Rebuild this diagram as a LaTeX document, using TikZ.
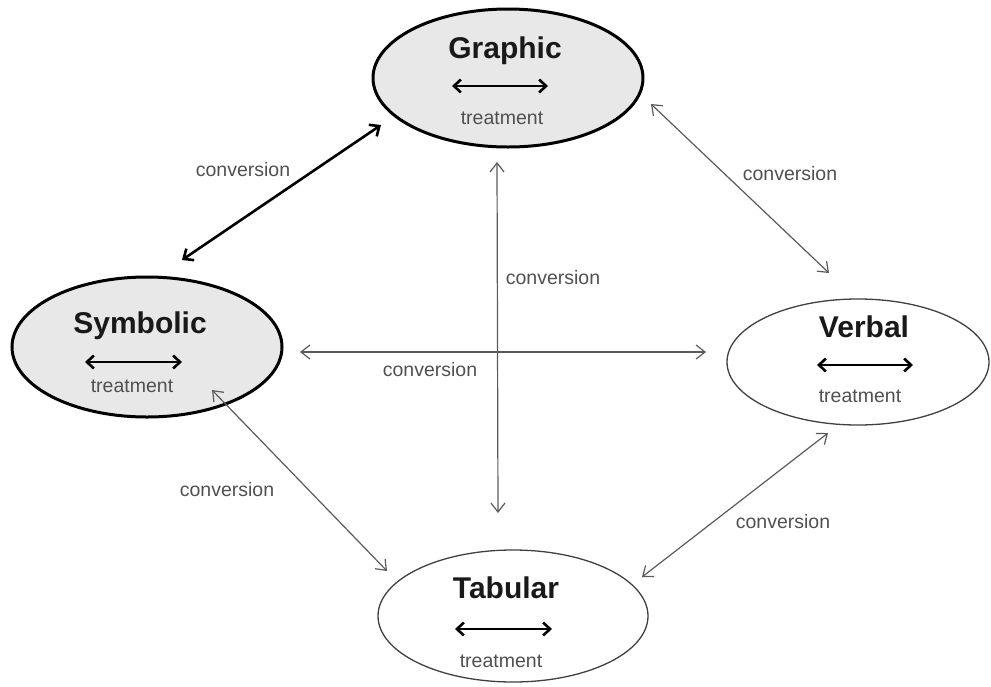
\documentclass[tikz,border=0pt]{standalone}
\usepackage{fontspec}
\setmainfont{Liberation Sans}
\usetikzlibrary{shapes.geometric,arrows.meta,calc}
\definecolor{fillgray}{HTML}{E8E8E8}
\definecolor{linegray}{HTML}{5A5A5A}
\definecolor{labelgray}{HTML}{505050}
\tikzset{
  repbold/.style={ellipse,draw=black,line width=3pt,fill=fillgray,inner sep=0pt},
  repthin/.style={ellipse,draw=black!75,line width=1.3pt,fill=white,inner sep=0pt},
  title/.style={anchor=base,font=\fontsize{30}{32}\selectfont\bfseries,text=black!90,inner sep=0pt},
  small/.style={anchor=base,font=\fontsize{19.5}{21}\selectfont,text=labelgray,inner sep=0pt},
  treat/.style={line width=2.6pt,{Straight Barb[length=7pt,width=13pt,line width=2.6pt]}-{Straight Barb[length=7pt,width=13pt,line width=2.6pt]}},
  thinconv/.style={draw=linegray,line width=1.2pt,{Straight Barb[length=9pt,width=14pt]}-{Straight Barb[length=9pt,width=14pt]}},
  thickconv/.style={draw=black,line width=2.6pt,{Straight Barb[length=8pt,width=14pt,line width=2.6pt]}-{Straight Barb[length=8pt,width=14pt,line width=2.6pt]}}
}
\begin{document}
\begin{tikzpicture}[x=1pt,y=-1pt]
\useasboundingbox (0,0) rectangle (991,686);
% ellipses
\node[repbold,minimum width=270pt,minimum height=138pt] (G) at (508,78) {};
\node[repbold,minimum width=270pt,minimum height=140pt] (S) at (147,347) {};
\node[repthin,minimum width=262pt,minimum height=126pt] (V) at (858,362) {};
\node[repthin,minimum width=270pt,minimum height=132pt] (T) at (513,616) {};
% titles
\node[title] (Gt) at (505,58) {Graphic};
\node[title] (St) at (140,333) {Symbolic};
\node[title] (Vt) at (864,337) {Verbal};
\node[title] (Tt) at (506,598) {Tabular};
% treatment arrows
\coordinate (Ga) at (452,86); \coordinate (Gb) at (548,86);
\coordinate (Sa) at (85,362); \coordinate (Sb) at (182,362);
\coordinate (Va) at (817,365); \coordinate (Vb) at (913,365);
\coordinate (Ta) at (455,629); \coordinate (Tb) at (552,629);
\draw[treat] (Ga) -- (Gb);
\draw[treat] (Sa) -- (Sb);
\draw[treat] (Va) -- (Vb);
\draw[treat] (Ta) -- (Tb);
\node[small] (Gtr) at (502,124) {treatment};
\node[small] (Str) at (132,392) {treatment};
\node[small] (Vtr) at (860,402) {treatment};
\node[small] (Ttr) at (501,667) {treatment};
% conversions
\draw[thickconv] ($(G.center)+(-127,47)$) -- ($(S.center)+(35,-87)$);
\draw[thinconv] ($(G.center)+(143,26)$) -- ($(V.center)+(-29,-89)$);
\draw[thinconv] ($(G.center)+(-11,84)$) -- ($(T.center)+(-15,-103)$);
\draw[thinconv] ($(S.center)+(153,5)$) -- ($(V.center)+(-152,-10)$);
\draw[thinconv] ($(S.center)+(65,43)$) -- ($(T.center)+(-126,-45)$);
\draw[thinconv] ($(V.center)+(-30,71)$) -- ($(T.center)+(129,-39)$);
% labels
\node[small] (c1) at (243,176) {conversion};
\node[small] (c2) at (790,180) {conversion};
\node[small] (c3) at (553,284) {conversion};
\node[small] (c4) at (430,376) {conversion};
\node[small] (c5) at (227,496) {conversion};
\node[small] (c6) at (783,528) {conversion};
\end{tikzpicture}
\end{document}
